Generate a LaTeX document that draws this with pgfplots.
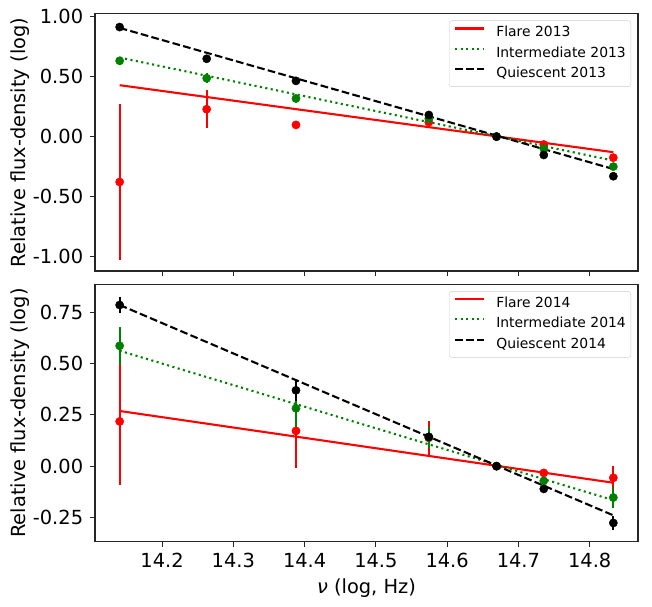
\documentclass[border=0pt]{standalone}
\usepackage{pgfplots}
\pgfplotsset{compat=1.18}
\usepackage{pgfplotstable}
\usepackage{fontspec}
\setmainfont{DejaVu Sans}
\definecolor{mplgreen}{RGB}{0,128,0}
\definecolor{mplred}{RGB}{255,0,0}

% 2013
\pgfplotstableread{
x y e
14.1405 -0.378 0.648
14.2626 0.228 0.156
14.3879 0.0975 0.015
14.5743 0.120 0.010
14.6693 0.000 0.000
14.7356 -0.066 0.010
14.8332 -0.175 0.015
}\flareA
\pgfplotstableread{
x y e
14.1405 0.631 0.035
14.2626 0.486 0.040
14.3879 0.317 0.015
14.5743 0.150 0.010
14.6693 0.000 0.000
14.7356 -0.100 0.010
14.8332 -0.250 0.010
}\interA
\pgfplotstableread{
x y e
14.1405 0.912 0.010
14.2626 0.648 0.015
14.3879 0.464 0.010
14.5743 0.180 0.010
14.6693 0.000 0.000
14.7356 -0.153 0.010
14.8332 -0.330 0.010
}\quiesA
% 2014
\pgfplotstableread{
x y e
14.1405 0.218 0.310
14.3879 0.172 0.180
14.5743 0.138 0.083
14.6693 0.000 0.000
14.7356 -0.033 0.010
14.8332 -0.057 0.057
}\flareB
\pgfplotstableread{
x y e
14.1405 0.587 0.093
14.3879 0.282 0.100
14.5743 0.140 0.050
14.6693 0.000 0.000
14.7356 -0.072 0.010
14.8332 -0.153 0.050
}\interB
\pgfplotstableread{
x y e
14.1405 0.786 0.041
14.3879 0.370 0.050
14.5743 0.143 0.010
14.6693 0.000 0.000
14.7356 -0.111 0.010
14.8332 -0.277 0.033
}\quiesB

\pgfplotsset{
  myax/.style={
    scale only axis, width=543bp, height=257.2bp,
    xmin=14.1059, xmax=14.8678,
    axis line style={black!85, line width=1.1bp},
    tick align=outside, xtick pos=left, ytick pos=left,
    major tick length=4.9bp,
    tick style={black!85, line width=1.1bp},
    tick label style={font=\fontsize{19.4bp}{23bp}\selectfont},
    yticklabel style={inner sep=0bp, xshift=-6.8bp},
    xticklabel style={inner sep=0bp, yshift=-6.7bp},
    xtick={14.2,14.3,14.4,14.5,14.6,14.7,14.8},
    label style={font=\fontsize{19.4bp}{23bp}\selectfont},
    ylabel={Relative flux-density (log)},
    ylabel style={at={(axis description cs:-0.1271,0.5)}, anchor=base, rotate=0, inner sep=0bp},
    legend cell align=left,
    legend image code/.code={\draw[##1, line width=2.08bp] (0bp,5bp) -- (29bp,5bp);},
    legend style={at={(1,1)}, anchor=north east, xshift=-7bp, yshift=-6.7bp,
      draw=black!20, rounded corners=2.5bp, fill=white,
      font=\fontsize{13.9bp}{16bp}\selectfont,
      inner xsep=5bp, inner ysep=6.3bp, row sep=7.2bp, column sep=11bp,
      nodes={inner sep=0bp, text height=10bp, text depth=3bp}},
    ebr/.style={only marks, mark=*, mark size=4.1bp, color=##1,
      mark options={solid, fill=##1, draw=##1, line width=0.5bp},
      forget plot,
      error bars/.cd, y dir=both, y explicit, error mark=none,
      error bar style={line width=2.08bp, ##1, solid}},
    fitred/.style={mplred, line width=2.08bp},
    fitgreen/.style={mplgreen, line width=2.08bp, line cap=butt, dash pattern=on 2.08bp off 3.43bp},
    fitblack/.style={black, line width=2.08bp, line cap=butt, dash pattern=on 7.7bp off 3.3bp},
  }
}

\begin{document}
\begin{tikzpicture}
\path[use as bounding box] (0bp,0bp) rectangle (652bp,607bp);

\begin{axis}[myax, at={(95bp,336bp)}, anchor=south west,
  ymin=-1.119, ymax=1.0225,
  ytick={-1,-0.5,0,0.5,1},
  yticklabels={-1.00,-0.50,0.00,0.50,1.00},
  xticklabels={},
]
\addplot[ebr=mplred] table[x=x,y=y,y error=e] {\flareA};
\addplot[fitred] coordinates {(14.1405,0.428) (14.8332,-0.130)};
\addlegendentry{Flare 2013}
\addplot[ebr=mplgreen] table[x=x,y=y,y error=e] {\interA};
\addplot[fitgreen] coordinates {(14.1405,0.658) (14.8332,-0.200)};
\addlegendentry{Intermediate 2013}
\addplot[ebr=black] table[x=x,y=y,y error=e] {\quiesA};
\addplot[fitblack] coordinates {(14.1405,0.905) (14.8332,-0.270)};
\addlegendentry{Quiescent 2013}
\end{axis}

\begin{axis}[myax, at={(95bp,65.3bp)}, anchor=south west,
  ymin=-0.3685, ymax=0.886,
  ytick={-0.25,0,0.25,0.5,0.75},
  yticklabels={-0.25,0.00,0.25,0.50,0.75},
  xticklabels={14.2,14.3,14.4,14.5,14.6,14.7,14.8},
  xlabel={\textit{ν} (log, Hz)},
  xlabel style={at={(axis description cs:0.5,0)}, anchor=base, yshift=-51.6bp, inner sep=0bp},
]
\addplot[ebr=mplred] table[x=x,y=y,y error=e] {\flareB};
\addplot[fitred] coordinates {(14.1405,0.269) (14.8332,-0.081)};
\addlegendentry{Flare 2014}
\addplot[ebr=mplgreen] table[x=x,y=y,y error=e] {\interB};
\addplot[fitgreen] coordinates {(14.1405,0.563) (14.8332,-0.166)};
\addlegendentry{Intermediate 2014}
\addplot[ebr=black] table[x=x,y=y,y error=e] {\quiesB};
\addplot[fitblack] coordinates {(14.1405,0.786) (14.8332,-0.240)};
\addlegendentry{Quiescent 2014}
\end{axis}
\end{tikzpicture}
\end{document}
